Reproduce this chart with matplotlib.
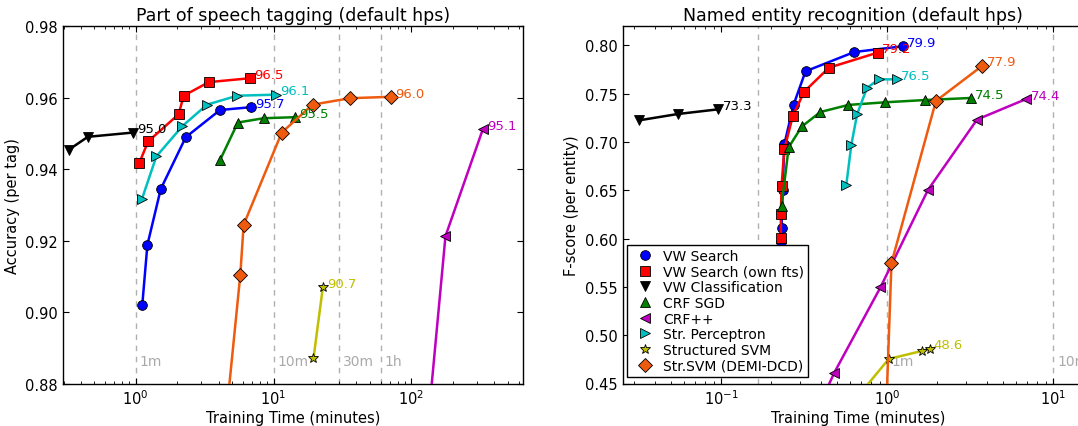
import matplotlib
matplotlib.use("Agg")
import matplotlib.pyplot as plt
from matplotlib.lines import Line2D
from matplotlib.ticker import FormatStrFormatter
import matplotlib.transforms as mtransforms

# ---------------- data: Part of speech tagging ----------------
pos_vws_x = [1.115, 1.215, 1.519, 2.307, 4.09, 6.89]
pos_vws_y = [0.9019, 0.9188, 0.9344, 0.9489, 0.9565, 0.9573]
pos_own_x = [1.059, 1.229, 2.046, 2.23, 3.39, 6.77]
pos_own_y = [0.9416, 0.9477, 0.9553, 0.9605, 0.9643, 0.9654]
pos_cls_x = [0.327, 0.449, 0.96]
pos_cls_y = [0.9454, 0.949, 0.9502]
pos_sgd_x = [4.09, 5.51, 8.47, 14.4]
pos_sgd_y = [0.9425, 0.953, 0.9542, 0.9545]
pos_crfpp_x = [126, 177, 331]
pos_crfpp_y = [0.86, 0.9212, 0.9512]
pos_perc_x = [1.109, 1.41, 2.18, 3.29, 5.45, 10.35]
pos_perc_y = [0.9316, 0.9435, 0.952, 0.958, 0.9605, 0.9608]
pos_ssvm_x = [19.5, 22.8]
pos_ssvm_y = [0.887, 0.9069]
pos_demi_x = [4.25, 5.74, 6.07, 11.47, 19.2, 35.9, 71.7]
pos_demi_y = [0.86, 0.9104, 0.9244, 0.9502, 0.958, 0.9598, 0.9602]
pos_labels = ["95.7", "96.5", "95.0", "95.5", "95.1", "96.1", "90.7", "96.0"]

# ---------------- data: Named entity recognition ----------------
ner_vws_x = [0.2288, 0.231, 0.2344, 0.240, 0.273, 0.322, 0.634, 1.239]
ner_vws_y = [0.5965, 0.611, 0.6506, 0.6975, 0.7386, 0.7731, 0.7931, 0.799]
ner_own_x = [0.2288, 0.2288, 0.231, 0.240, 0.270, 0.316, 0.446, 0.875]
ner_own_y = [0.601, 0.625, 0.6544, 0.6924, 0.7269, 0.752, 0.7769, 0.7924]
ner_cls_x = [0.0321, 0.0547, 0.0963]
ner_cls_y = [0.7224, 0.7289, 0.7338]
ner_sgd_x = [0.231, 0.255, 0.306, 0.396, 0.583, 0.965, 1.70, 3.19]
ner_sgd_y = [0.634, 0.6945, 0.716, 0.731, 0.7383, 0.741, 0.7434, 0.7455]
ner_crfpp_x = [0.33, 0.48, 0.91, 1.76, 3.48, 6.89]
ner_crfpp_y = [0.40, 0.4612, 0.5494, 0.6503, 0.7232, 0.7445]
ner_perc_x = [0.567, 0.608, 0.659, 0.756, 0.89, 1.138]
ner_perc_y = [0.6555, 0.697, 0.7288, 0.756, 0.7648, 0.7648]
ner_ssvm_x = [0.69, 1.022, 1.63, 1.80]
ner_ssvm_y = [0.44, 0.4754, 0.4838, 0.486]
ner_demi_x = [0.99, 1.061, 1.966, 3.75]
ner_demi_y = [0.43, 0.5747, 0.7424, 0.779]
ner_labels = ["79.9", "79.2", "73.3", "74.5", "74.4", "76.5", "48.6", "77.9"]

series_names = ["VW Search", "VW Search (own fts)", "VW Classification", "CRF SGD",
                "CRF++", "Str. Perceptron", "Structured SVM", "Str.SVM (DEMI-DCD)"]

pos_guides = [1, 10, 30, 60]
pos_guide_labels = ["1m", "10m", "30m", "1h"]
ner_guides = [1.0 / 6.0, 1, 10]
ner_guide_labels = ["", "1m", "10m"]   # the 10s label is hidden behind the legend

# ---------------- styles ----------------
ORANGE = "#EE5A0E"
styles = [
    dict(color="#0000FF", marker="o", ms=7),
    dict(color="#FF0000", marker="s", ms=7),
    dict(color="#000000", marker="v", ms=7.5),
    dict(color="#008000", marker="^", ms=7.5),
    dict(color="#BF00BF", marker="<", ms=7.5),
    dict(color="#00BFBF", marker=">", ms=7.5),
    dict(color="#BFBF00", marker="*", ms=7),
    dict(color=ORANGE, marker="D", ms=7),
]
label_colors = ["#0000FF", "#FF0000", "#000000", "#008000", "#BF00BF", "#00BFBF",
                "#BFBF00", ORANGE]

plt.rcParams.update({
    "font.family": ["DejaVu Sans"],
    "xtick.direction": "in",
    "ytick.direction": "in",
    "xtick.top": True,
    "ytick.right": True,
    "xtick.major.size": 4,
    "xtick.minor.size": 2,
    "ytick.major.size": 4,
    "ytick.minor.size": 2,
    "axes.linewidth": 1.0,
    "xtick.labelsize": 10.5,
    "ytick.labelsize": 10.5,
    "axes.labelsize": 10.5,
    "axes.titlesize": 12.5,
})

fig = plt.figure(figsize=(10.78, 4.27), dpi=100)
W, H = 1078.0, 427.0
ax1 = fig.add_axes([62.7 / W, (H - 384.5) / H, 460.6 / W, 357.5 / H])
ax2 = fig.add_axes([622.7 / W, (H - 384.5) / H, 470.0 / W, 357.5 / H])


def draw(ax, xs, ys, labels, guides, guide_labels, xlim, ylim):
    trans = mtransforms.blended_transform_factory(ax.transData, ax.transAxes)
    for g, gl in zip(guides, guide_labels):
        ax.axvline(g, color="#b0b0b0", lw=1.0, ls=(0, (4, 4)), zorder=1)
        if gl:
            ax.annotate(gl, (g, 0.063), xycoords=trans, xytext=(3, 0),
                        textcoords="offset points", color="#aaaaaa",
                        fontsize=10, ha="left", va="center", zorder=1)
    for x, y, st, lab, lc in zip(xs, ys, styles, labels, label_colors):
        ax.plot(x, y, color=st["color"], lw=1.8, marker=st["marker"],
                ms=st["ms"], markerfacecolor=st["color"],
                markeredgecolor="black", markeredgewidth=0.6, zorder=3)
        ax.annotate(lab, (x[-1], y[-1]), xytext=(3, -2), textcoords="offset points",
                    color=lc, fontsize=9.5, ha="left", va="bottom", zorder=4)
    ax.set_xscale("log")
    ax.set_xlim(*xlim)
    ax.set_ylim(*ylim)
    ax.yaxis.set_major_formatter(FormatStrFormatter("%.2f"))
    ax.set_xlabel("Training Time (minutes)", labelpad=2)


draw(ax1,
     [pos_vws_x, pos_own_x, pos_cls_x, pos_sgd_x, pos_crfpp_x, pos_perc_x, pos_ssvm_x, pos_demi_x],
     [pos_vws_y, pos_own_y, pos_cls_y, pos_sgd_y, pos_crfpp_y, pos_perc_y, pos_ssvm_y, pos_demi_y],
     pos_labels, pos_guides, pos_guide_labels, (0.295, 650), (0.88, 0.98))
ax1.set_yticks([0.88, 0.90, 0.92, 0.94, 0.96, 0.98])
ax1.set_ylabel("Accuracy (per tag)")
ax1.set_title("Part of speech tagging (default hps)", pad=4)

draw(ax2,
     [ner_vws_x, ner_own_x, ner_cls_x, ner_sgd_x, ner_crfpp_x, ner_perc_x, ner_ssvm_x, ner_demi_x],
     [ner_vws_y, ner_own_y, ner_cls_y, ner_sgd_y, ner_crfpp_y, ner_perc_y, ner_ssvm_y, ner_demi_y],
     ner_labels, ner_guides, ner_guide_labels, (0.0255, 17.3), (0.45, 0.82))
ax2.set_yticks([0.45, 0.50, 0.55, 0.60, 0.65, 0.70, 0.75, 0.80])
ax2.set_ylabel("F-score (per entity)")
ax2.set_title("Named entity recognition (default hps)", pad=4)
ax2.title.set_position((460.6 / 470.0 / 2, 1.0))

handles = [Line2D([], [], linestyle="none", marker=st["marker"], ms=st["ms"],
                  markerfacecolor=st["color"], markeredgecolor="black",
                  markeredgewidth=0.6, color=st["color"]) for st in styles]
leg = ax2.legend(handles, series_names, loc="lower left", bbox_to_anchor=(0.009, 0.019),
                 borderaxespad=0, fontsize=10, numpoints=1, fancybox=False,
                 framealpha=1, edgecolor="black", handlelength=2.0,
                 handletextpad=0.3, labelspacing=0.12, borderpad=0.3)
leg.get_frame().set_linewidth(1.0)
leg.set_zorder(10)

fig.savefig("out.png", dpi=100, facecolor="white")
